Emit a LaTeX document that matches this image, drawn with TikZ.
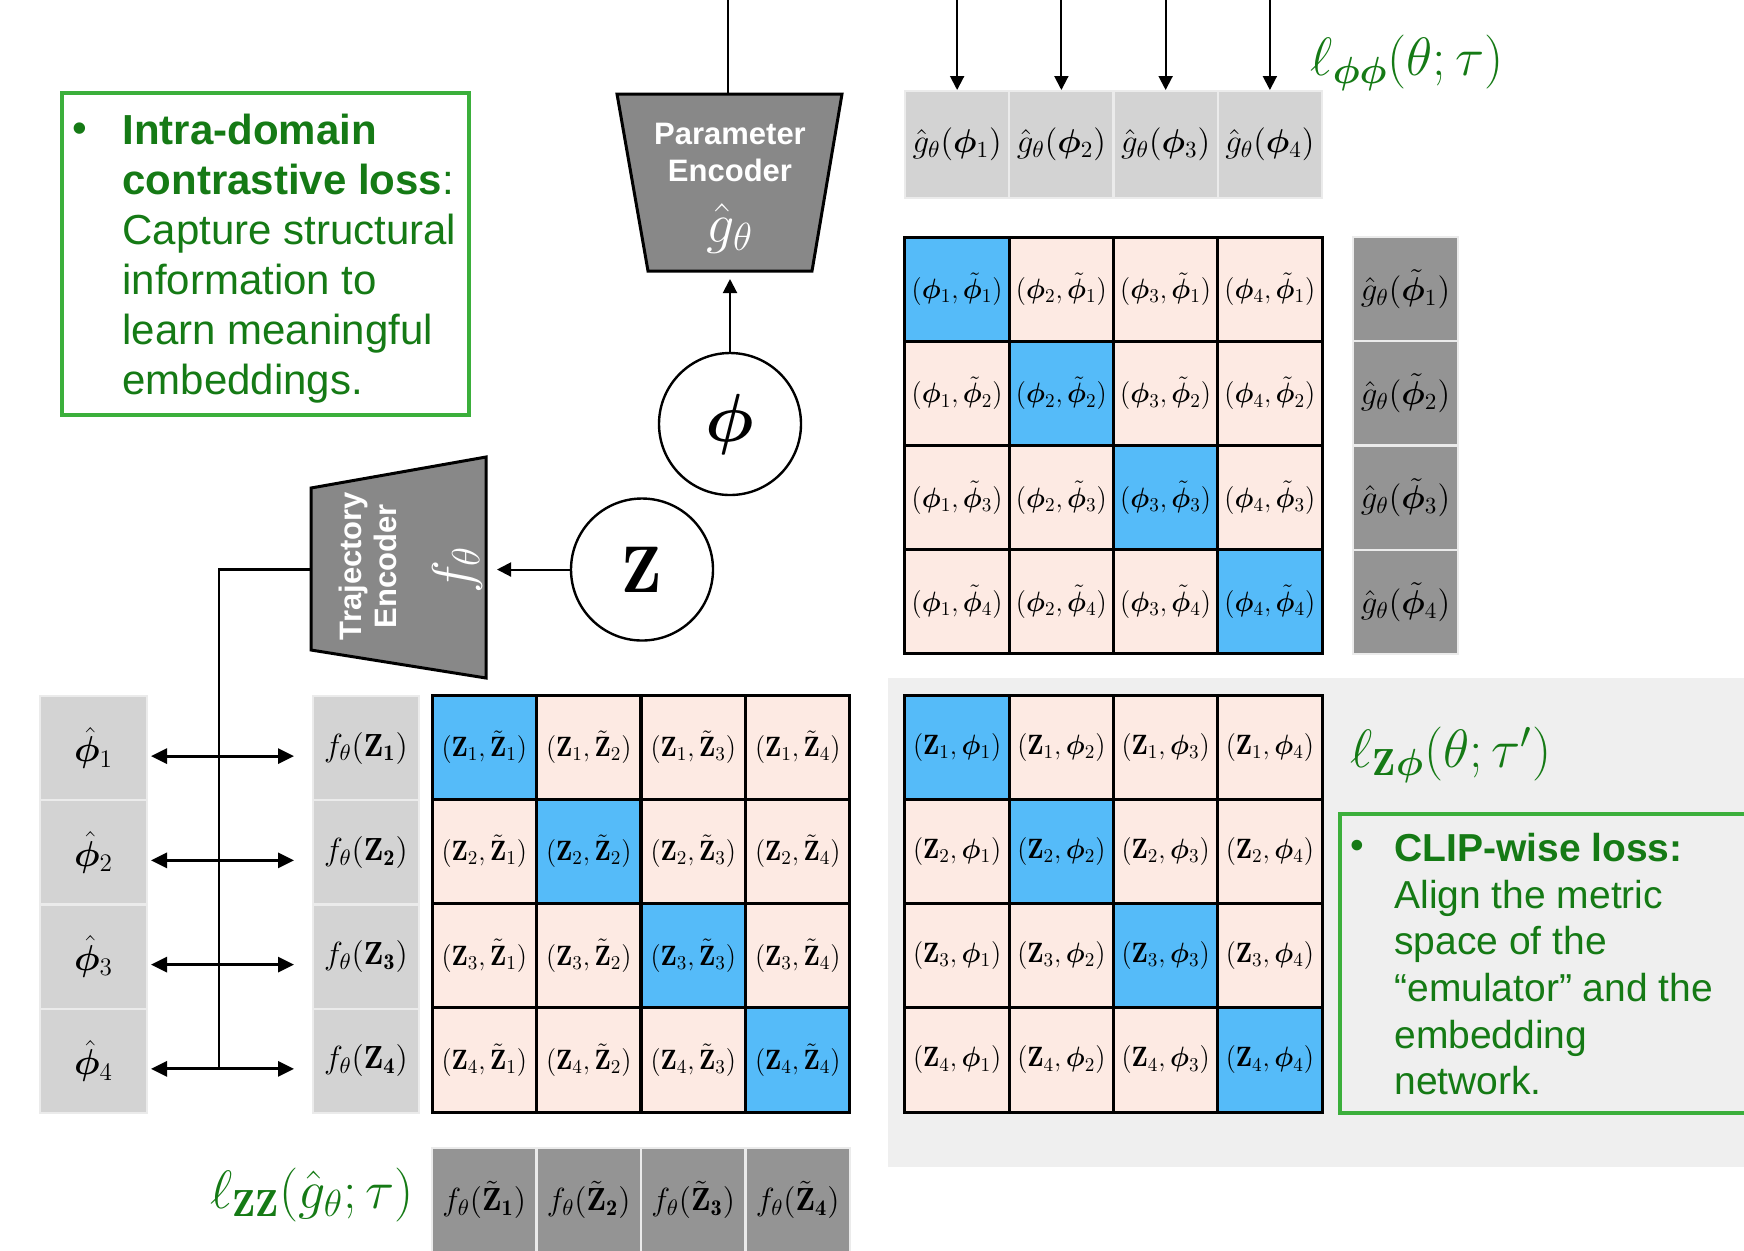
\RequirePackage{fix-cm}
\documentclass[tikz,border=0pt]{standalone}
\usepackage{amsmath}
\usepackage{bm}
\usepackage{graphicx}
\usepackage{fontspec}
\newfontfamily\helv{Liberation Sans}
\usetikzlibrary{arrows.meta}
\definecolor{cblue}{HTML}{55BBF9}
\definecolor{cpink}{HTML}{FDEAE3}
\definecolor{clgray}{HTML}{D3D3D3}
\definecolor{cdgray}{HTML}{949494}
\definecolor{cedge}{HTML}{EBEBEB}
\definecolor{cpanel}{HTML}{EFEFEF}
\definecolor{ctrap}{HTML}{888888}
\definecolor{cgtext}{HTML}{157A15}
\definecolor{cgbox}{HTML}{3BAF3B}
\newcommand{\myfs}[2]{\fontsize{#1}{#2}\selectfont}
\newcommand{\cellfont}{\myfs{14}{14}}
\newcommand{\ctxt}[1]{\scalebox{0.95}[1]{#1}}
\begin{document}
\begin{tikzpicture}[x=0.5pt,y=-0.5pt,
  every node/.style={inner sep=0pt},
  cellP/.style={draw=black, line width=1.5pt, minimum width=52.2pt, minimum height=52.1pt, font=\cellfont},
  lg/.style={fill=clgray, draw=cedge, line width=1pt},
  dg/.style={fill=cdgray, draw=cedge, line width=1pt},
  arr/.style={-{Triangle[length=7pt,width=7pt]}, line width=1pt},
  darr/.style={{Triangle[length=8pt,width=7.5pt]}-{Triangle[length=8pt,width=7.5pt]}, line width=1.5pt},
  enc/.style={fill=ctrap, draw=black, line width=1.5pt, line join=miter},
  circ/.style={circle, draw=black, line width=1.2pt, fill=white, minimum size=71pt},
  gbox/.style={draw=cgbox, line width=1.8pt},
  gtxt/.style={text=cgtext, font=\helv\myfs{21}{25}},
  gtxtb/.style={text=cgtext, font=\helv\myfs{19.5}{23.3}},
  lbl/.style={text=cgtext, font=\myfs{27}{27}},
]
\useasboundingbox (0,0) rectangle (1744,1250);
% background panel
\fill[cpanel] (888,678) rectangle (1744,1167);

% phi-phi matrix
\foreach \r in {1,...,4}{\foreach \c in {1,...,4}{
  \ifnum\r=\c\def\col{cblue}\else\def\col{cpink}\fi
  \node[cellP, fill=\col] (pp-\r-\c) at ({905+(\c-0.5)*104.25},{237+(\r-0.5)*104.25})
    {\ctxt{$(\bm\phi_{\c},\tilde{\bm\phi}_{\r})$}};
}}
% Z-Z matrix
\foreach \r in {1,...,4}{\foreach \c in {1,...,4}{
  \ifnum\r=\c\def\col{cblue}\else\def\col{cpink}\fi
  \node[cellP, fill=\col] (zz-\r-\c) at ({432+(\c-0.5)*104.5},{695+(\r-0.5)*104.25})
    {\ctxt{$(\mathbf{Z}_{\r},\tilde{\mathbf{Z}}_{\c})$}};
}}
% Z-phi matrix
\foreach \r in {1,...,4}{\foreach \c in {1,...,4}{
  \ifnum\r=\c\def\col{cblue}\else\def\col{cpink}\fi
  \node[cellP, fill=\col] (zp-\r-\c) at ({905+(\c-0.5)*104.25},{695+(\r-0.5)*104.25})
    {\ctxt{$(\mathbf{Z}_{\r},\bm\phi_{\c})$}};
}}

% gray columns / rows
\foreach \c in {1,...,4}{
  \node[lg, minimum width=52.1pt, minimum height=53.5pt, font=\myfs{16.5}{16.5}] (gp-\c)
    at ({905+(\c-0.5)*104.25},144.5) {$\hat g_\theta(\bm\phi_{\c})$};
  \coordinate (in-\c) at ({905+(\c-0.5)*104.25},-2);
  \draw[arr] (in-\c) -- (gp-\c.north);
}
\foreach \r in {1,...,4}{
  \node[dg, minimum width=52.5pt, minimum height=52.1pt, font=\myfs{16.5}{16.5}] (gt-\r)
    at (1405.5,{237+(\r-0.5)*104.25}) {$\hat g_\theta(\tilde{\bm\phi}_{\r})$};
}
\foreach \r in {1,...,4}{
  \node[lg, minimum width=53.5pt, minimum height=52.1pt, font=\myfs{18}{18}] (ph-\r)
    at (93.5,{696+(\r-0.5)*104.25}) {$\hat{\bm\phi}_{\r}$};
  \node[lg, minimum width=53pt, minimum height=52.1pt, font=\myfs{16}{16}] (fz-\r)
    at (366,{696+(\r-0.5)*104.25}) {$f_\theta(\mathbf{Z}_{\mathbf{\r}})$};
}
\foreach \c in {1,...,4}{
  \node[dg, minimum width=52.2pt, minimum height=52pt, font=\myfs{16}{16}] (ft-\c)
    at ({432+(\c-0.5)*104.5},1200) {$f_\theta(\tilde{\mathbf{Z}}_{\mathbf{\c}})$};
}

% encoders
\draw[enc] (617,94) -- (842,94) -- (812,271) -- (648,271) -- cycle;
\node[text=white, align=center, font=\helv\bfseries\myfs{15.5}{18.5}] (penc) at (730,152) {Parameter\\Encoder};
\node[text=white, font=\myfs{28}{28}] (penc-g) at (730,228) {$\hat g_\theta$};
\draw[enc] (311,488) -- (486,457) -- (486,678) -- (311,650) -- cycle;
\node[rotate=90, text=white, align=center, font=\helv\bfseries\myfs{15.5}{17.5}] (tenc) at (367.5,566) {Trajectory\\Encoder};
\node[rotate=90, text=white, font=\myfs{28}{28}] (tenc-f) at (457,570) {$f_\theta$};

\coordinate (pe-top) at (728,94);
\coordinate (pe-src) at (728,-2);
\coordinate (pe-bot) at (730,279);
\coordinate (te-in) at (497,569.5);
\coordinate (te-out) at (311,569.5);
\coordinate (jn) at (219,1069);

% circles
\node[circ, font=\myfs{34}{34}] (phi) at (730,424) {$\bm\phi$};
\node[circ, font=\myfs{33}{33}] (zc) at (642,569.5) {$\mathbf{Z}$};

% connectors
\draw[line width=1pt] (pe-src) -- (pe-top);
\draw[arr] (phi.north) -- (pe-bot);
\draw[arr] (zc.west) -- (te-in);
\draw[line width=1.3pt] (te-out) -| (jn);
\foreach \r in {1,...,4}{
  \draw[darr, shorten <=1.5pt, shorten >=9pt] ([yshift=-4pt]ph-\r.east) -- ([yshift=-4pt]fz-\r.west);
}

% labels
\node[lbl] (lpp) at (1407,63) {$\ell_{\bm\phi\bm\phi}(\theta;\tau)$};
\node[lbl] (lzz) at (312,1195) {$\ell_{\mathbf{ZZ}}(\hat g_\theta;\tau)$};
\node[lbl] (lzp) at (1451,755) {$\ell_{\mathbf{Z}\bm\phi}(\theta;\tau')$};

% green text boxes
\node[gbox, minimum width=203.5pt, minimum height=161pt, anchor=north west] (box1) at (60,91) {};
\node[gtxt] (b1) at (80,133) {•};
\node[gtxt, anchor=north west, align=left] (t1) at (122,114)
  {\textbf{Intra-domain}\\\textbf{contrastive loss}:\\Capture structural\\information to\\learn meaningful\\embeddings.};
\node[gbox, minimum width=205pt, minimum height=149.5pt, anchor=north west] (box2) at (1338,812) {};
\node[gtxtb] (b2) at (1357,849) {•};
\node[gtxtb, anchor=north west, align=left] (t2) at (1394,833)
  {\textbf{CLIP-wise loss:}\\Align the metric\\space of the\\“emulator” and the\\embedding\\network.};
\end{tikzpicture}
\end{document}
